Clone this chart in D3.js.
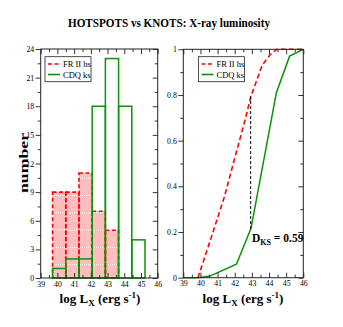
<!DOCTYPE html>
<html>
<head>
<meta charset="utf-8">
<script src="https://cdn.jsdelivr.net/npm/d3@7"></script>
<style>
  body { margin: 0; background: #fff; }
  svg text { font-family: "Liberation Serif", "Times New Roman", serif; }
</style>
</head>
<body>
<div id="chart"></div>
<script>
/* histogram bins (log Lx) */
const binEdges = [39.71, 40.5, 41.29, 42.08, 42.87, 43.66, 44.45, 45.24];
const hotspotCounts = [9, 9, 11, 7, 5, 0, 0];
const knotCounts = [1, 2, 2, 18, 23, 18, 4];

/* cumulative distributions */
const hotspotCdfX = [39.85, 40.3, 41.4, 42.6, 42.93, 43.6, 44.05, 44.45, 46];
const hotspotCdfY = [0, 0.1, 0.355, 0.69, 0.79, 0.93, 0.975, 1, 1];
const knotCdfX = [39, 39.9, 40.55, 42.1, 42.95, 44.43, 45.2, 46];
const knotCdfY = [0, 0, 0.007, 0.059, 0.216, 0.81, 0.97, 1];

const dksX = 42.93, dksLow = 0.213, dksHigh = 0.795;
const seriesNames = ["FR II hs", "CDQ ks"];

const width = 343, height = 327;
const red = "#ff0000", green = "#079407";

const svg = d3.select("#chart").append("svg")
    .attr("width", width).attr("height", height);

/* pink fill with white dotted lines */
const pat = svg.append("defs").append("pattern")
    .attr("id", "pinkFill")
    .attr("patternUnits", "userSpaceOnUse")
    .attr("width", 8).attr("height", 17.3)
    .attr("y", 4.7);
pat.append("rect").attr("width", 8).attr("height", 17.3).attr("fill", "#ffbdbd");
pat.append("line").attr("x1", 0).attr("x2", 8).attr("y1", 0.5).attr("y2", 0.5)
    .attr("stroke", "#fff").attr("stroke-width", 1).attr("stroke-dasharray", "1,1");

svg.append("text")
    .attr("x", 169).attr("y", 27)
    .attr("text-anchor", "middle")
    .attr("font-size", 13.5).attr("font-weight", "bold")
    .attr("textLength", 202).attr("lengthAdjust", "spacingAndGlyphs")
    .text("HOTSPOTS vs KNOTS: X-ray luminosity");

// frame + ticks for one panel
function drawAxes(x, y, yMajor, yMinor, yFmt) {
    const g = svg.append("g");
    const [x0, x1] = x.range(), [y0, y1] = y.range();
    const xMajor = d3.range(39, 46.01, 1), xMinor = d3.range(39.5, 46, 1);

    g.append("g").attr("transform", `translate(0,${y0})`)
        .call(d3.axisBottom(x).tickValues(xMajor).tickFormat(d3.format("d"))
            .tickSizeInner(-5).tickSizeOuter(0).tickPadding(3));
    g.append("g").attr("transform", `translate(0,${y0})`)
        .call(d3.axisBottom(x).tickValues(xMinor).tickFormat("").tickSizeInner(-3).tickSizeOuter(0));
    g.append("g").attr("transform", `translate(0,${y1})`)
        .call(d3.axisBottom(x).tickValues(xMajor).tickFormat("").tickSize(5));
    g.append("g").attr("transform", `translate(0,${y1})`)
        .call(d3.axisBottom(x).tickValues(xMinor).tickFormat("").tickSize(3));

    g.append("g").attr("transform", `translate(${x0},0)`)
        .call(d3.axisLeft(y).tickValues(yMajor).tickFormat(yFmt).tickSizeInner(5).tickSizeOuter(0).tickPadding(1.5));
    g.append("g").attr("transform", `translate(${x0},0)`)
        .call(d3.axisLeft(y).tickValues(yMinor).tickFormat("").tickSize(3));
    g.append("g").attr("transform", `translate(${x1},0)`)
        .call(d3.axisLeft(y).tickValues(yMajor).tickFormat("").tickSize(5));
    g.append("g").attr("transform", `translate(${x1},0)`)
        .call(d3.axisLeft(y).tickValues(yMinor).tickFormat("").tickSize(3));

    g.selectAll(".domain").remove();
    g.selectAll(".tick line").attr("stroke", "#333");
    g.selectAll(".tick text").attr("font-size", 7.8).attr("fill", "#000")
        .attr("font-family", "Liberation Serif, serif");

    g.append("rect")
        .attr("x", x0).attr("y", y1)
        .attr("width", x1 - x0).attr("height", y0 - y1)
        .attr("fill", "none").attr("stroke", "#222").attr("stroke-width", 1);
    return g;
}

function xLabel(cx) {
    const t = svg.append("text")
        .attr("x", cx).attr("y", 303)
        .attr("text-anchor", "middle")
        .attr("font-size", 13).attr("font-weight", "bold");
    t.append("tspan").text("log L");
    t.append("tspan").attr("font-size", 9).attr("dy", 3).text("X");
    t.append("tspan").attr("dy", -3).text(" (erg s");
    t.append("tspan").attr("font-size", 9).attr("dy", -5).text("-1");
    t.append("tspan").attr("dy", 5).text(")");
}

function legend(x0, y0) {
    const g = svg.append("g");
    g.append("rect").attr("x", x0).attr("y", y0).attr("width", 46).attr("height", 25)
        .attr("fill", "#fff").attr("stroke", "#222").attr("stroke-width", 0.8);
    const rows = [{name: seriesNames[0], color: red, dash: "4,2.5"},
                  {name: seriesNames[1], color: green, dash: null}];
    rows.forEach((r, i) => {
        const yy = y0 + 7.3 + i * 10.5;
        g.append("line").attr("x1", x0 + 3).attr("x2", x0 + 15)
            .attr("y1", yy).attr("y2", yy)
            .attr("stroke", r.color).attr("stroke-width", 1.6)
            .attr("stroke-dasharray", r.dash);
        g.append("text").attr("x", x0 + 18).attr("y", yy + 3)
            .attr("font-size", 8.5).text(r.name);
    });
}

/* ---- left panel: histograms ---- */
const xL = d3.scaleLinear().domain([39, 46]).range([40.7, 157.7]);
const yL = d3.scaleLinear().domain([0, 24]).range([278, 49]);

const bins = hotspotCounts.map((c, i) => ({x0: binEdges[i], x1: binEdges[i + 1], hs: c, ks: knotCounts[i]}));

svg.append("g").selectAll("rect")
    .data(bins.filter(d => d.hs > 0))
    .join("rect")
    .attr("x", d => xL(d.x0)).attr("y", d => yL(d.hs))
    .attr("width", d => xL(d.x1) - xL(d.x0))
    .attr("height", d => yL(0) - yL(d.hs))
    .attr("fill", "url(#pinkFill)");

svg.append("g").selectAll("rect")
    .data(bins)
    .join("rect")
    .attr("x", d => xL(d.x0)).attr("y", d => yL(d.hs))
    .attr("width", d => xL(d.x1) - xL(d.x0))
    .attr("height", d => yL(0) - yL(d.hs))
    .attr("fill", "none").attr("stroke", red).attr("stroke-width", 1.6)
    .attr("stroke-dasharray", "4,2.5");

svg.append("g").selectAll("rect")
    .data(bins)
    .join("rect")
    .attr("x", d => xL(d.x0)).attr("y", d => yL(d.ks))
    .attr("width", d => xL(d.x1) - xL(d.x0))
    .attr("height", d => yL(0) - yL(d.ks))
    .attr("fill", "none").attr("stroke", green).attr("stroke-width", 1.5);

drawAxes(xL, yL, d3.range(0, 24.1, 3), d3.range(1.5, 24, 3), d3.format("d"));
legend(45, 56.7);
xLabel(100);

svg.append("text")
    .attr("transform", "translate(27.5,163) rotate(-90)")
    .attr("text-anchor", "middle")
    .attr("font-size", 12).attr("font-weight", "bold")
    .attr("textLength", 60).attr("lengthAdjust", "spacingAndGlyphs")
    .text("number");

/* ---- right panel: cumulative fractions ---- */
const xR = d3.scaleLinear().domain([39, 46]).range([183.3, 303.3]);
const yR = d3.scaleLinear().domain([0, 1]).range([277.7, 49.3]);

const line = d3.line().x(d => xR(d[0])).y(d => yR(d[1]));

svg.append("path")
    .datum(knotCdfX.map((v, i) => [v, knotCdfY[i]]))
    .attr("d", line)
    .attr("fill", "none").attr("stroke", green).attr("stroke-width", 1.5);

svg.append("path")
    .datum(hotspotCdfX.map((v, i) => [v, hotspotCdfY[i]]))
    .attr("d", line)
    .attr("fill", "none").attr("stroke", red).attr("stroke-width", 1.6)
    .attr("stroke-dasharray", "5,3");

svg.append("line")
    .attr("x1", xR(dksX)).attr("x2", xR(dksX))
    .attr("y1", yR(dksLow)).attr("y2", yR(dksHigh))
    .attr("stroke", "#000").attr("stroke-width", 1)
    .attr("stroke-dasharray", "3,2");

const dt = svg.append("text")
    .attr("x", 252).attr("y", 241.7)
    .attr("font-size", 11.5).attr("font-weight", "bold");
dt.append("tspan").text("D");
dt.append("tspan").attr("font-size", 8).attr("dy", 3).text("KS");
dt.append("tspan").attr("dy", -3).text(" = 0.59");

drawAxes(xR, yR, d3.range(0, 1.01, 0.2), d3.range(0.1, 1, 0.2),
    d => d === 0 ? "0" : d === 1 ? "1" : d3.format(".1f")(d));
legend(198.5, 56.7);
xLabel(243);
</script>
</body>
</html>
